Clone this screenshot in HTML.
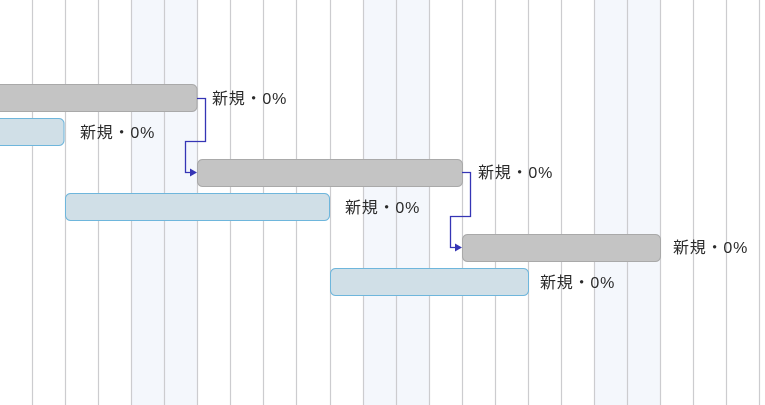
<!DOCTYPE html>
<html><head><meta charset="utf-8"><style>
html,body{margin:0;padding:0;background:#fff;width:765px;height:405px;overflow:hidden}
text{font-family:"Liberation Sans","Noto Sans CJK JP",sans-serif;font-size:16px;letter-spacing:0.8px;fill:#2a2a2a}
</style></head><body>
<svg width="765" height="405" viewBox="0 0 765 405" xmlns="http://www.w3.org/2000/svg">
<rect x="131" y="0" width="66" height="405" fill="#f4f7fc"/>
<rect x="363" y="0" width="66" height="405" fill="#f4f7fc"/>
<rect x="594" y="0" width="66" height="405" fill="#f4f7fc"/>
<g stroke="#cccccf" stroke-width="1.2">
<line x1="32.5" y1="0" x2="32.5" y2="405"/><line x1="65.5" y1="0" x2="65.5" y2="405"/>
<line x1="98.5" y1="0" x2="98.5" y2="405"/><line x1="131.5" y1="0" x2="131.5" y2="405"/>
<line x1="164.5" y1="0" x2="164.5" y2="405"/><line x1="197.5" y1="0" x2="197.5" y2="405"/>
<line x1="230.5" y1="0" x2="230.5" y2="405"/><line x1="263.5" y1="0" x2="263.5" y2="405"/>
<line x1="296.5" y1="0" x2="296.5" y2="405"/><line x1="330.5" y1="0" x2="330.5" y2="405"/>
<line x1="363.5" y1="0" x2="363.5" y2="405"/><line x1="396.5" y1="0" x2="396.5" y2="405"/>
<line x1="429.5" y1="0" x2="429.5" y2="405"/><line x1="462.5" y1="0" x2="462.5" y2="405"/>
<line x1="495.5" y1="0" x2="495.5" y2="405"/><line x1="528.5" y1="0" x2="528.5" y2="405"/>
<line x1="561.5" y1="0" x2="561.5" y2="405"/><line x1="594.5" y1="0" x2="594.5" y2="405"/>
<line x1="627.5" y1="0" x2="627.5" y2="405"/><line x1="660.5" y1="0" x2="660.5" y2="405"/>
<line x1="693.5" y1="0" x2="693.5" y2="405"/><line x1="726.5" y1="0" x2="726.5" y2="405"/>
<line x1="759.5" y1="0" x2="759.5" y2="405"/>
</g>
<g stroke="#a9a9a9" stroke-width="1" fill="#c4c4c4">
<rect x="-5" y="84.5" width="202" height="27" rx="5"/>
<rect x="197.5" y="159.5" width="265" height="27" rx="5"/>
<rect x="462.5" y="234.5" width="198" height="27" rx="5"/>
</g>
<g stroke="#6eb6dc" stroke-width="1" fill="#d0dfe7">
<rect x="-5" y="118.5" width="69" height="27" rx="5"/>
<rect x="65.5" y="193.5" width="264" height="27" rx="5"/>
<rect x="330.5" y="268.5" width="198" height="27" rx="5"/>
</g>
<g fill="none" stroke="#3535b5" stroke-width="1.3">
<polyline points="197,98.5 205.5,98.5 205.5,141.5 185.5,141.5 185.5,172.5 191,172.5"/>
<polyline points="462,172.5 470.5,172.5 470.5,216.5 450.5,216.5 450.5,247.5 456,247.5"/>
</g>
<g fill="#3535b5">
<polygon points="190,168.5 197,172.5 190,176.5"/>
<polygon points="455,243.5 462,247.5 455,251.5"/>
</g>
<text x="212" y="104">新規・0%</text>
<text x="80" y="138">新規・0%</text>
<text x="478" y="178">新規・0%</text>
<text x="345" y="213">新規・0%</text>
<text x="673" y="253">新規・0%</text>
<text x="540" y="288">新規・0%</text>
</svg>
</body></html>
